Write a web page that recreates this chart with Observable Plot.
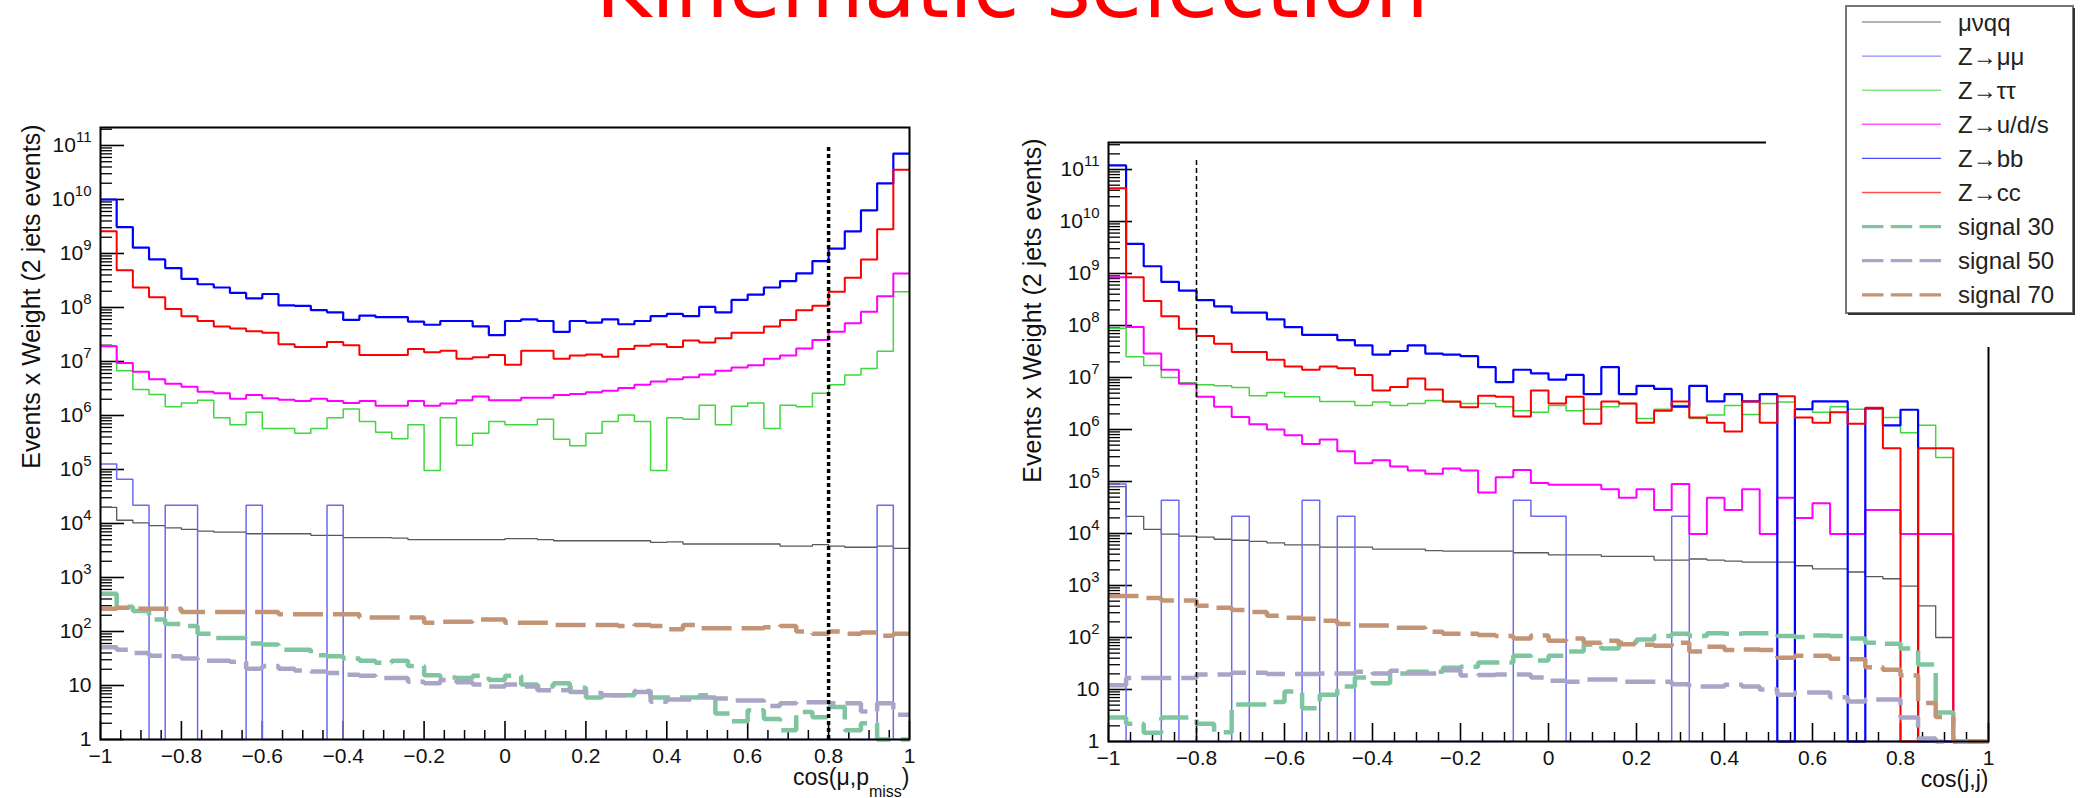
<!DOCTYPE html>
<html>
<head>
<meta charset="utf-8">
<script src="https://cdn.jsdelivr.net/npm/d3@7"></script>
<script src="https://cdn.jsdelivr.net/npm/@observablehq/plot@0.6"></script>
<style>
  html, body { margin: 0; padding: 0; background: #fff; }
  body { position: relative; width: 2081px; height: 798px; overflow: hidden; font-family: "Liberation Sans", Arial, sans-serif; }
  .abs { position: absolute; }
</style>
</head>
<body>
<script>
// ---------------- DATA (bin contents, as log10; null = empty bin) ----------------
const binEdges = d3.range(51).map(i => -1 + 0.04 * i);   // 50 bins on [-1, 1]

const seriesNames = ["μνqq", "Z→μμ", "Z→ττ", "Z→u/d/s", "Z→bb", "Z→cc", "signal 30", "signal 50", "signal 70"];

// Left panel: cos(mu, p_miss)
const muqqLeft = [4.30,4.06,4.01,3.96,3.92,3.89,3.86,3.84,3.84,3.81, 3.81,3.81,3.81,3.78,3.78,3.74,3.74,3.74,3.73,3.70, 3.70,3.70,3.70,3.70,3.70,3.72,3.72,3.70,3.68,3.68, 3.68,3.68,3.68,3.68,3.65,3.66,3.62,3.62,3.62,3.62, 3.62,3.62,3.58,3.58,3.61,3.58,3.56,3.56,3.58,3.54];
const mumuLeft = [5.10,4.82,4.34,null,4.34,4.34,null,null,null,4.34, null,null,null,null,4.34,null,null,null,null,null, null,null,null,null,null,null,null,null,null,null, null,null,null,null,null,null,null,null,null,null, null,null,null,null,null,null,null,null,4.34,null];
const tautauLeft = [7.29,6.83,6.48,6.39,6.16,6.23,6.28,5.96,5.83,6.06, 5.76,5.76,5.67,5.76,5.96,6.12,5.89,5.69,5.57,5.83, 4.98,5.96,5.45,5.67,5.89,5.83,5.83,5.93,5.56,5.44, 5.67,5.89,6.01,5.89,4.98,5.96,5.93,6.19,5.83,6.17, 6.23,5.76,6.19,6.16,6.41,6.57,6.75,6.87,7.19,8.29];
const udsLeft = [7.28,6.97,6.81,6.67,6.59,6.53,6.44,6.41,6.31,6.38, 6.32,6.29,6.27,6.31,6.27,6.23,6.27,6.18,6.18,6.27, 6.18,6.22,6.28,6.35,6.28,6.28,6.33,6.33,6.38,6.40, 6.43,6.46,6.51,6.57,6.63,6.67,6.71,6.76,6.83,6.89, 6.93,7.05,7.11,7.24,7.40,7.55,7.71,7.92,8.21,8.63];
const bbLeft = [10.0,9.49,9.11,8.89,8.73,8.53,8.43,8.37,8.27,8.17, 8.25,8.04,8.03,7.95,7.91,7.77,7.85,7.82,7.82,7.74, 7.68,7.75,7.75,7.65,7.49,7.75,7.78,7.75,7.55,7.75, 7.72,7.78,7.69,7.75,7.84,7.88,7.84,8.01,7.91,8.14, 8.24,8.37,8.49,8.63,8.86,9.09,9.41,9.80,10.30,10.85];
const ccLeft = [9.41,8.69,8.37,8.19,7.97,7.84,7.75,7.65,7.61,7.56, 7.53,7.32,7.27,7.27,7.36,7.30,7.12,7.12,7.12,7.23, 7.17,7.20,7.05,7.08,7.12,6.94,7.20,7.20,7.05,7.11, 7.13,7.09,7.23,7.29,7.32,7.27,7.39,7.35,7.43,7.53, 7.53,7.65,7.77,7.95,8.03,8.29,8.55,8.89,9.45,10.55];
const sig30Left = [2.70,2.46,2.38,2.22,2.14,2.10,1.96,1.88,1.88,1.78, 1.76,1.66,1.66,1.56,1.54,1.50,1.46,1.42,1.46,1.36, 1.19,1.15,1.14,1.18,1.10,1.18,1.02,0.98,1.04,0.96, 0.78,0.82,0.82,0.90,0.78,0.78,0.78,0.82,0.48,0.34, 0.54,0.38,0.17,0.51,0.41,0.60,0.17,0.30,null,null];
const sig50Left = [1.71,1.66,1.60,1.55,1.54,1.50,1.46,1.46,1.44,1.31, 1.36,1.31,1.28,1.26,1.23,1.20,1.18,1.14,1.14,1.07, 1.04,1.10,1.06,1.02,0.98,1.02,0.98,0.91,0.91,0.88, 0.86,0.82,0.82,0.88,0.70,0.74,0.74,0.78,0.76,0.72, 0.72,0.62,0.67,0.69,0.69,0.67,0.67,0.52,0.67,0.46];
const sig70Left = [2.42,2.44,2.42,2.42,2.42,2.36,2.36,2.36,2.36,2.36, 2.36,2.32,2.32,2.32,2.32,2.32,2.26,2.26,2.26,2.26, 2.16,2.18,2.18,2.22,2.22,2.16,2.16,2.16,2.12,2.12, 2.12,2.12,2.10,2.12,2.10,2.04,2.12,2.06,2.06,2.06, 2.06,2.08,2.10,2.00,1.96,2.00,1.96,1.98,1.92,1.96];

// Right panel: cos(j, j)
const muqqRight = [4.90,4.33,4.08,3.99,3.95,3.93,3.89,3.87,3.85,3.82, 3.78,3.78,3.74,3.74,3.74,3.70,3.70,3.70,3.67,3.66, 3.66,3.66,3.66,3.63,3.63,3.59,3.59,3.59,3.56,3.56, 3.56,3.49,3.49,3.51,3.49,3.47,3.45,3.45,3.45,3.38, 3.32,3.32,3.26,3.17,3.13,2.99,2.61,2.00,null,null];
const mumuRight = [4.95,null,null,4.64,null,null,null,4.33,null,null, null,4.64,null,4.33,null,null,null,null,null,null, null,null,null,4.64,4.33,4.33,null,null,null,null, null,null,4.33,null,null,null,null,null,null,null, null,null,null,null,null,null,null,null,null,null];
const tautauRight = [7.95,7.40,7.23,7.00,6.90,6.86,6.84,6.81,6.65,6.71, 6.63,6.63,6.54,6.54,6.46,6.53,6.46,6.50,6.56,6.53, 6.50,6.50,6.44,6.36,6.33,6.46,6.36,6.39,6.44,6.50, 6.21,6.39,6.46,6.21,6.28,6.46,6.29,6.50,6.53,6.39, 6.33,6.44,6.39,6.39,6.23,5.94,6.08,5.46,null,null];
const udsRight = [8.93,7.97,7.46,7.15,6.88,6.63,6.44,6.24,6.10,6.00, 5.89,5.72,5.81,5.58,5.35,5.41,5.29,5.21,5.15,5.25, 5.21,4.79,5.08,5.22,4.97,4.94,4.94,4.94,4.85,4.69, 4.85,4.45,4.95,3.99,4.69,4.45,4.85,3.99,4.69,4.30, 4.58,3.99,3.99,4.45,4.45,3.99,3.99,3.99,null,null];
const bbRight = [11.08,9.57,9.14,8.84,8.67,8.49,8.37,8.25,8.25,8.12, 7.97,7.82,7.82,7.72,7.62,7.44,7.51,7.62,7.46,7.44, 7.41,7.20,6.91,7.15,7.08,6.96,7.05,6.68,7.20,6.68, 6.84,6.78,6.44,6.84,6.54,6.68,6.54,6.68,null,6.39, 6.54,6.54,null,6.41,6.08,6.38,null,null,null,null];
const ccRight = [10.64,8.93,8.47,8.18,7.94,7.80,7.65,7.49,7.49,7.34, 7.21,7.15,7.21,7.18,7.05,6.75,6.82,6.98,6.77,6.54, 6.43,6.65,6.63,6.25,6.75,6.50,6.63,6.11,6.54,6.50, 6.13,6.36,6.54,6.23,6.13,5.96,6.54,6.13,6.64,6.23, 6.13,6.33,6.11,6.42,5.64,null,5.64,5.64,null,null];
const sig30Right = [0.46,0.34,0.17,0.46,0.46,0.34,0.18,0.71,0.71,0.76, 0.96,0.64,0.90,1.06,1.23,1.12,1.31,1.34,1.34,1.42, 1.44,1.52,1.52,1.65,1.56,1.65,1.73,1.86,1.79,1.90, 1.96,2.03,2.07,2.03,2.08,2.07,2.08,2.08,2.03,2.01, 2.04,2.03,1.98,1.90,1.88,1.79,1.48,0.56,null,null];
const sig50Right = [1.08,1.22,1.22,1.22,1.22,1.29,1.29,1.32,1.32,1.30, 1.30,1.30,1.31,1.31,1.34,1.31,1.36,1.31,1.31,1.37, 1.27,1.28,1.29,1.29,1.23,1.17,1.15,1.19,1.19,1.15, 1.15,1.15,1.10,1.06,1.06,1.09,1.06,1.00,0.90,0.94, 0.94,0.85,0.77,0.81,0.81,0.46,0.06,null,null,null];
const sig70Right = [2.80,2.80,2.76,2.71,2.71,2.61,2.57,2.53,2.49,2.42, 2.38,2.36,2.32,2.26,2.23,2.23,2.19,2.19,2.11,2.07, 2.07,2.05,2.03,1.98,2.04,1.94,1.98,1.90,1.94,1.87, 1.86,1.84,1.90,1.73,1.82,1.76,1.77,1.76,1.61,1.65, 1.65,1.59,1.58,1.43,1.38,1.27,0.74,0.47,null,null];

// Axis ticks and labels
const xMajorTicks = [-1, -0.8, -0.6, -0.4, -0.2, 0, 0.2, 0.4, 0.6, 0.8, 1];
const xMinorTicks = [-0.95,-0.9,-0.85,-0.75,-0.7,-0.65,-0.55,-0.5,-0.45,-0.35,-0.3,-0.25,-0.15,-0.1,-0.05,0.05,0.1,0.15,0.25,0.3,0.35,0.45,0.5,0.55,0.65,0.7,0.75,0.85,0.9,0.95];
const yDecades = [0,1,2,3,4,5,6,7,8,9,10,11];
const yTitle = "Events x Weight (2 jets events)";
const xTitleLeft = "cos(μ,p_{miss})";
const xTitleRight = "cos(j,j)";
const cutLeft = 0.8, cutRight = -0.8;
const titleText = "Kinematic selection";

// ---------------- STYLES ----------------
const lineStyles = [
  {color: "#5a5a5a", width: 1.3, dash: null,    legendColor: "#9a9a9a", legendWidth: 1.4},
  {color: "#6a6af0", width: 1.5, dash: null,    legendColor: "#8c8cff", legendWidth: 1.4},
  {color: "#3fd83f", width: 1.5, dash: null,    legendColor: "#80e880", legendWidth: 1.4},
  {color: "#ff00ff", width: 2.0, dash: null,    legendColor: "#ff55ff", legendWidth: 1.4},
  {color: "#0000ff", width: 2.2, dash: null,    legendColor: "#4a4aff", legendWidth: 1.4},
  {color: "#ff0000", width: 2.0, dash: null,    legendColor: "#ff5050", legendWidth: 1.4},
  {color: "#7fc6a0", width: 4.5, dash: "30,10", legendColor: "#7fc6a0", legendWidth: 3.3},
  {color: "#a9a5c6", width: 4.5, dash: "30,10", legendColor: "#a9a5c6", legendWidth: 3.3},
  {color: "#c49476", width: 4.5, dash: "30,10", legendColor: "#c49476", legendWidth: 3.3}
];

const yMajor = yDecades.map(e => 10 ** e);
const yMinor = [];
for (const e of yDecades) for (let m = 2; m <= 9; m++) yMinor.push(m * 10 ** e);

function steps(logs) {
  const pts = logs.map((e, i) => ({x: binEdges[i], y: e == null ? 1 : Math.max(1, 10 ** e)}));
  pts.push({x: binEdges[logs.length], y: pts[pts.length - 1].y});
  return pts;
}

function fmtY(d) {
  const e = Math.round(Math.log10(d));
  return e === 0 ? "1" : e === 1 ? "10" : "10^" + e;
}

function panel(o) {
  const H = 798;
  const fw = o.width - o.ml - o.mr, fh = H - o.mt - o.mb;
  const marks = [];
  marks.push(Plot.tickY(yMinor.filter(v => v < o.yTop), {y: d => d, insetRight: fw - 12, stroke: "#000", strokeWidth: 1.3}));
  marks.push(Plot.tickY(yMajor, {y: d => d, insetRight: fw - 24, stroke: "#000", strokeWidth: 1.6}));
  marks.push(Plot.tickX(xMinorTicks, {x: d => d, insetTop: fh - 9, stroke: "#000", strokeWidth: 1.5}));
  marks.push(Plot.tickX(xMajorTicks, {x: d => d, insetTop: fh - 18, stroke: "#000", strokeWidth: 1.6}));
  o.series.forEach((logs, k) => {
    const s = lineStyles[k];
    marks.push(Plot.line(steps(logs), {
      x: "x", y: "y", curve: "step-after", stroke: s.color, strokeWidth: s.width,
      strokeDasharray: s.dash, strokeLinecap: "butt", strokeLinejoin: "miter"
    }));
  });
  marks.push(Plot.ruleX([o.cut], {y1: 1, y2: o.cutTop, stroke: "#000", strokeWidth: o.cutWidth, strokeDasharray: o.cutDash}));
  marks.push(Plot.frame({stroke: "#000", strokeWidth: 2}));
  marks.push(Plot.axisY({ticks: yMajor, tickSize: 0, tickPadding: 9, tickFormat: fmtY, fontSize: 21, label: null}));
  marks.push(Plot.axisX({ticks: xMajorTicks, tickSize: 0, tickPadding: 9, tickFormat: d3.format(".1~f"), fontSize: 21, label: null}));
  marks.push(Plot.text([yTitle], {text: d => d, frameAnchor: "top-left", rotate: -90, textAnchor: "end", dx: o.ytDx, dy: o.ytDy, fontSize: 25, fill: "#111"}));
  marks.push(Plot.text([o.xTitle], {text: d => d, frameAnchor: "bottom-right", textAnchor: "end", lineAnchor: "bottom", dy: o.xtDy, fontSize: 23, fill: "#111"}));

  const svg = Plot.plot({
    width: o.width, height: H,
    marginLeft: o.ml, marginRight: o.mr, marginTop: o.mt, marginBottom: o.mb,
    x: {domain: [-1, 1]},
    y: {type: "log", domain: [1, o.yTop]},
    style: {fontFamily: "'Liberation Sans', Arial, sans-serif", color: "#111", background: "transparent", overflow: "visible"},
    marks
  });
  svg.classList.add("abs");
  svg.style.left = o.left + "px";
  svg.style.top = "0px";

  const NS = "http://www.w3.org/2000/svg";
  svg.querySelectorAll("text").forEach(t => {
    const s = t.textContent;
    // superscript exponents on y tick labels (10^n)
    if (/^10\^\d+$/.test(s)) {
      t.textContent = "10";
      const sup = document.createElementNS(NS, "tspan");
      sup.setAttribute("dy", "-10");
      sup.setAttribute("font-size", "15");
      sup.textContent = s.slice(3);
      t.appendChild(sup);
      return;
    }
    // subscript in the x title (p_{miss})
    const m = s.match(/^(.*)_\{(.*)\}(.*)$/);
    if (m) {
      t.textContent = m[1];
      const sub = document.createElementNS(NS, "tspan");
      sub.setAttribute("dy", "12"); sub.setAttribute("font-size", "16"); sub.textContent = m[2];
      const rest = document.createElementNS(NS, "tspan");
      rest.setAttribute("dy", "-12"); rest.setAttribute("font-size", "23"); rest.textContent = m[3];
      t.appendChild(sub); t.appendChild(rest);
    }
  });
  document.body.appendChild(svg);
}

// Title (cut at the top edge as in the original slide)
const tsvg = document.createElementNS("http://www.w3.org/2000/svg", "svg");
tsvg.setAttribute("width", 2081); tsvg.setAttribute("height", 60);
tsvg.setAttribute("class", "abs"); tsvg.style.left = "0px"; tsvg.style.top = "0px";
tsvg.innerHTML = `<text x="1012" y="17" text-anchor="middle" font-family="DejaVu Sans" font-size="85" fill="#ff0000">${titleText}</text>`;
document.body.appendChild(tsvg);

panel({
  left: 0, width: 1000, ml: 100, mr: 91, mt: 127, mb: 59, yTop: 10 ** 11.333,
  series: [muqqLeft, mumuLeft, tautauLeft, udsLeft, bbLeft, ccLeft, sig30Left, sig50Left, sig70Left],
  cut: cutLeft, cutTop: 1e11, cutWidth: 3.5, cutDash: "4,3",
  ytDx: -78, ytDy: -3, xTitle: xTitleLeft, xtDy: 45
});
panel({
  left: 1000, width: 1081, ml: 108, mr: 93, mt: 142, mb: 57, yTop: 10 ** 11.52,
  series: [muqqRight, mumuRight, tautauRight, udsRight, bbRight, ccRight, sig30Right, sig50Right, sig70Right],
  cut: cutRight, cutTop: 1.6e11, cutWidth: 1.5, cutDash: "5,3",
  ytDx: -85, ytDy: -4, xTitle: xTitleRight, xtDy: 45
});

// white area hiding the top-right part of the right frame (as in the original)
const cover = document.createElement("div");
cover.className = "abs";
Object.assign(cover.style, {left: "1766px", top: "0px", width: "315px", height: "347px", background: "#fff"});
document.body.appendChild(cover);

// Legend
const lg = document.createElementNS("http://www.w3.org/2000/svg", "svg");
lg.setAttribute("width", 232); lg.setAttribute("height", 312);
lg.setAttribute("class", "abs"); lg.style.left = "1845px"; lg.style.top = "5px";
let inner = `<rect x="1" y="1" width="227" height="307" fill="#fff" stroke="#777" stroke-width="2"/>
<path d="M229,3 V309 H3" fill="none" stroke="#333" stroke-width="2"/>`;
seriesNames.forEach((name, k) => {
  const s = lineStyles[k];
  const cy = 17 + 34.1 * k;
  inner += `<line x1="17" x2="96" y1="${cy}" y2="${cy}" stroke="${s.legendColor}" stroke-width="${s.legendWidth}" ${s.dash ? 'stroke-dasharray="21.5,7.25"' : ''}/>`;
  inner += `<text x="113" y="${cy}" dy="0.36em" font-family="Liberation Sans, Arial, sans-serif" font-size="24" fill="#222">${name}</text>`;
});
lg.innerHTML = inner;
document.body.appendChild(lg);
</script>
</body>
</html>
